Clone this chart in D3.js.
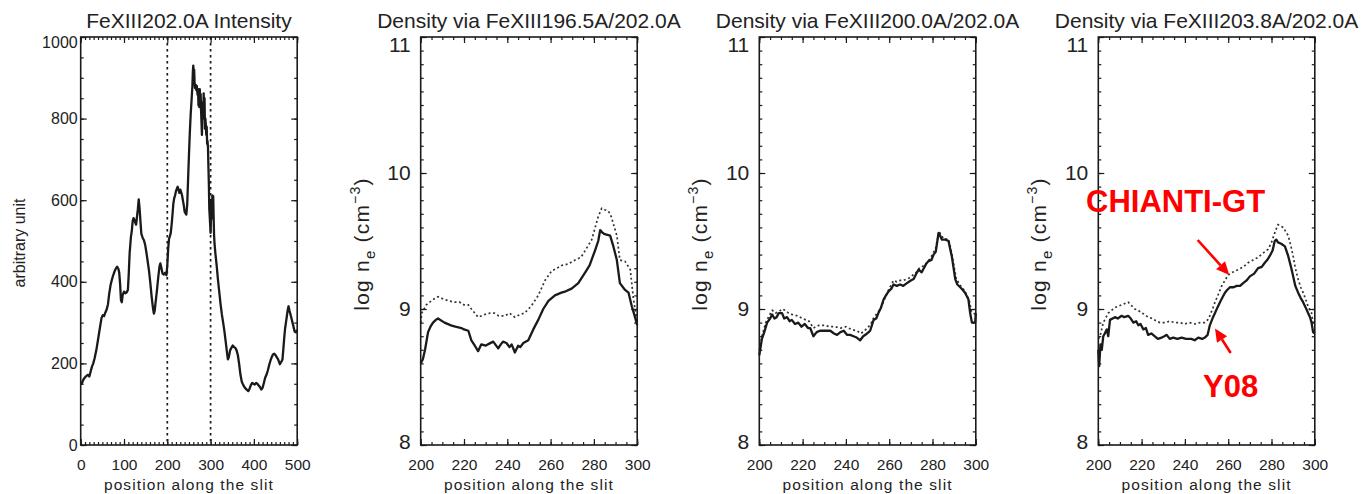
<!DOCTYPE html>
<html><head><meta charset="utf-8">
<script src="https://cdn.jsdelivr.net/npm/d3@7"></script>
<style>
body{margin:0;background:#fff}
svg{display:block}
text{font-family:"Liberation Sans",Arial,sans-serif;fill:#222}
</style>
</head><body>
<svg id="c" width="1364" height="494"></svg>
<script>
// ---------- DATA ----------
const titles = ["FeXIII202.0A Intensity","Density via FeXIII196.5A/202.0A","Density via FeXIII200.0A/202.0A","Density via FeXIII203.8A/202.0A"];
const xTitle = "position along the slit";
const intensityTicksX = [0,100,200,300,400,500];
const intensityTicksY = [0,200,400,600,800,1000];
const densityTicksX = [200,220,240,260,280,300];
const densityTicksY = [8,9,10,11];
const markedRange = [200,300];

const intensity202 = [
[0,148],[3,152],[6,160],[10,166],[14,170],[17,172],[20,168],[23,180],[26,192],[29,200],[32,212],[36,232],[40,258],[44,285],[48,311],[51,318],[54,316],[57,325],[60,332],[63,345],[66,372],[69,392],[72,405],[75,416],[78,425],[81,432],[84,437],[87,432],[89,422],[91,395],[93,355],[95,350],[97,368],[100,376],[103,372],[106,374],[109,380],[111,420],[113,470],[116,510],[118,525],[120,548],[122,556],[124,552],[126,545],[128,540],[130,560],[132,578],[134,602],[136,580],[138,548],[140,518],[143,508],[146,502],[149,490],[152,470],[155,448],[158,425],[161,395],[164,362],[167,335],[169,322],[171,330],[173,350],[176,378],[179,410],[182,438],[184,445],[186,436],[189,420],[192,418],[195,422],[198,416],[200,440],[202,480],[204,505],[206,512],[208,520],[210,540],[212,565],[214,592],[216,605],[218,612],[220,622],[222,628],[224,633],[226,625],[228,618],[230,626],[232,620],[234,612],[236,600],[238,588],[240,572],[242,568],[244,565],[246,590],[248,650],[250,710],[252,765],[254,810],[256,845],[258,880],[259,915],[260,930],[261,905],[262,920],[263,890],[264,875],[266,882],[267,870],[268,880],[270,858],[271,872],[272,832],[273,868],[274,828],[275,872],[276,845],[277,860],[278,820],[279,790],[280,760],[281,815],[282,840],[283,800],[284,862],[285,810],[286,850],[287,775],[288,800],[289,785],[290,760],[291,780],[292,738],[293,745],[294,728],[295,680],[296,640],[297,578],[298,560],[299,540],[300,520],[301,560],[302,600],[303,555],[304,612],[305,590],[306,610],[307,560],[308,515],[309,495],[311,470],[314,440],[317,405],[320,375],[323,345],[326,320],[329,300],[332,278],[335,252],[338,225],[340,210],[342,215],[345,232],[348,238],[351,244],[354,240],[357,238],[360,232],[363,220],[366,198],[369,172],[372,155],[375,148],[378,142],[381,138],[384,135],[387,132],[390,138],[393,147],[396,152],[399,150],[402,148],[405,152],[408,150],[411,146],[414,142],[417,136],[420,140],[423,152],[426,165],[429,172],[432,182],[435,195],[438,206],[441,215],[444,222],[447,224],[450,220],[453,215],[456,210],[458,204],[460,198],[462,202],[464,205],[466,210],[468,235],[470,262],[472,285],[474,300],[476,315],[478,330],[480,340],[482,330],[485,318],[488,305],[491,292],[494,278],[497,276],[500,282]
];

const dens1965Y08 = [
[200,8.60],[201,8.63],[202,8.70],[203.4,8.83],[204.5,8.87],[205.7,8.90],[207,8.92],[208,8.93],[211,8.90],[214,8.88],[216,8.87],[218.8,8.86],[220,8.85],[222,8.84],[223.4,8.77],[225,8.73],[226.5,8.69],[228,8.74],[230,8.73],[231,8.74],[233.5,8.76],[235.8,8.71],[237,8.74],[238,8.76],[239.6,8.75],[241,8.72],[242,8.74],[243.5,8.68],[245,8.73],[246,8.72],[247.4,8.75],[249.7,8.77],[252,8.85],[254.3,8.92],[256.6,9.00],[259,9.06],[262,9.10],[265,9.12],[267,9.13],[269.7,9.15],[272.8,9.19],[276,9.27],[278,9.32],[280.5,9.43],[282,9.50],[282.9,9.58],[284,9.56],[285,9.55],[287.5,9.54],[289,9.46],[290.6,9.36],[292,9.19],[294.4,9.14],[296,9.12],[297.5,9.02],[299,8.94],[300,8.88]
];
const dens1965GT = [
[200,8.90],[200.5,8.97],[202.6,9.03],[205.7,9.07],[208,9.09],[211,9.07],[213,9.06],[215.7,9.05],[218,9.05],[220,9.03],[222,9.03],[223.4,9.00],[226.5,8.94],[229.6,8.96],[232,8.97],[234,8.97],[236,8.95],[238.9,8.95],[241,8.97],[243.5,8.94],[246,8.96],[248,8.97],[251,9.02],[254.3,9.10],[257.4,9.21],[260.5,9.28],[263,9.30],[265,9.32],[268,9.33],[271.3,9.36],[274,9.38],[276,9.43],[279,9.51],[282,9.68],[283.6,9.74],[285,9.73],[286.7,9.72],[288,9.68],[290.6,9.54],[292,9.36],[294.4,9.35],[296.8,9.29],[298.3,9.07],[300,8.90]
];
const dens2000Y08 = [
[200,8.66],[200.2,8.68],[201.2,8.78],[202.5,8.84],[203.6,8.90],[205,8.93],[205.9,8.96],[207,8.93],[208,8.94],[209,8.97],[210.5,8.97],[211.5,8.93],[212.8,8.94],[214,8.91],[215,8.92],[216.5,8.89],[218,8.90],[219.5,8.87],[221,8.89],[222.5,8.86],[223.5,8.86],[225,8.80],[226.5,8.83],[228,8.84],[230,8.84],[232.8,8.84],[234.5,8.82],[235.9,8.81],[237.5,8.83],[239,8.84],[240.5,8.81],[242,8.81],[243.5,8.80],[245,8.79],[246.6,8.77],[248,8.80],[249,8.81],[250.5,8.83],[251.2,8.84],[252.8,8.92],[254,8.93],[255,8.97],[256.2,9.01],[257.4,9.07],[258.5,9.10],[259.7,9.13],[261,9.15],[262,9.18],[263.5,9.17],[265,9.18],[266.5,9.17],[268.2,9.19],[270,9.21],[271.3,9.22],[272.5,9.26],[273.6,9.29],[275,9.27],[276,9.30],[277,9.33],[278,9.35],[279.5,9.36],[280.5,9.40],[281.5,9.42],[282.8,9.56],[283.5,9.54],[284.3,9.51],[286,9.51],[287.4,9.50],[288.2,9.44],[289,9.38],[290.5,9.22],[291.5,9.18],[292.8,9.16],[294,9.14],[295,9.12],[296,9.09],[296.6,9.07],[297.4,8.97],[298.2,8.90],[299,8.90],[299.7,8.90],[300,8.97]
];
const dens2000GT = [
[200,8.70],[201.5,8.82],[203,8.90],[204.5,8.95],[206,8.99],[207.5,8.97],[209,8.98],[210.5,9.00],[212,8.99],[213.5,8.97],[215,8.96],[217.5,8.95],[220,8.93],[223,8.91],[225,8.86],[227.5,8.88],[230,8.88],[232.5,8.87],[235,8.87],[237.5,8.86],[240,8.87],[242.5,8.85],[245,8.84],[247,8.82],[248.5,8.84],[250,8.86],[251.5,8.89],[253,8.94],[254.5,8.97],[256,9.00],[258,9.08],[260,9.15],[262,9.21],[263.5,9.20],[265,9.21],[266.5,9.21],[268,9.22],[269.5,9.23],[271,9.25],[272.5,9.27],[274,9.30],[276,9.32],[278,9.35],[280,9.40],[281.5,9.45],[283,9.57],[285,9.52],[287.5,9.51],[289,9.40],[291,9.22],[293,9.17],[295,9.13],[297,9.06],[298,8.98],[300,8.96]
];
const dens2038Y08 = [
[200,8.70],[200.4,8.58],[201,8.74],[201.6,8.70],[202.3,8.80],[203,8.82],[203.9,8.85],[204.6,8.80],[205.4,8.92],[207.7,8.94],[209,8.93],[210.8,8.95],[212,8.94],[213.8,8.95],[215,8.93],[216.2,8.90],[217.5,8.91],[218.5,8.88],[219.5,8.89],[220.8,8.85],[222,8.86],[223,8.81],[224.5,8.82],[226,8.80],[227.5,8.78],[229.3,8.79],[230.5,8.80],[231.6,8.81],[233,8.78],[234.6,8.79],[236.5,8.78],[238.5,8.79],[240.5,8.78],[243,8.78],[244.5,8.77],[246.2,8.79],[248,8.78],[249.2,8.79],[250.5,8.81],[251.5,8.88],[253,8.94],[253.9,8.97],[255,9.01],[256.2,9.05],[257.5,9.09],[258.5,9.12],[259.5,9.14],[260.8,9.16],[262.5,9.16],[263.9,9.17],[265.5,9.17],[266.9,9.19],[268.5,9.21],[270,9.24],[272,9.26],[273.8,9.30],[275.5,9.31],[276.9,9.34],[278,9.36],[279.2,9.39],[280.5,9.43],[281.5,9.50],[282.2,9.51],[283,9.49],[284.5,9.48],[286.2,9.46],[287.7,9.39],[289,9.31],[290,9.24],[291,9.17],[292.3,9.12],[293.5,9.08],[294.6,9.05],[295.8,9.01],[296.9,8.97],[297.8,8.94],[298.5,8.90],[299.2,8.83],[300,8.82]
];
const dens2038GT = [
[200,8.78],[200.8,8.80],[202.3,8.90],[204.6,8.97],[207.7,9.01],[210.8,9.03],[213.8,9.05],[215,9.03],[216.9,9.00],[218.5,8.99],[220,8.97],[221.5,8.96],[223,8.94],[225,8.93],[226.9,8.91],[228.5,8.90],[230.8,8.90],[233,8.91],[235.4,8.90],[237.5,8.90],[240,8.89],[242,8.90],[244.6,8.89],[247,8.90],[249.2,8.90],[250.5,8.92],[251.5,8.95],[253,9.01],[253.9,9.05],[255.5,9.11],[257,9.17],[258.5,9.21],[260,9.25],[262,9.27],[264.6,9.29],[267,9.31],[269.2,9.34],[271.5,9.36],[273.8,9.38],[276,9.41],[278.5,9.44],[280,9.49],[281.5,9.56],[283,9.62],[285.4,9.60],[287.7,9.54],[289,9.46],[290,9.39],[291,9.30],[292.3,9.22],[293.5,9.16],[294.6,9.12],[295.8,9.07],[296.9,9.02],[298.5,8.97],[299.2,8.90],[300,8.88]
];
const densitySolid = [dens1965Y08, dens2000Y08, dens2038Y08];
const densityDotted = [dens1965GT, dens2000GT, dens2038GT];
const annotLabels = ["CHIANTI-GT","Y08"];
const annotTips = [[260.5,9.25],[253.9,8.856]];

// ---------- LAYOUT ----------
const svg = d3.select("#c");
const TOP = 37, BOT = 445, W = 216.5;
const lefts = [80.7, 420.7, 759.3, 1098.3];
const INK = "#1a1a1a";

function range(a,b,s){ return d3.range(a, b + s/2, s); }

function drawFrame(g, x, y, xMajor, xMinor, yMajor, yMinor, yPad, yFont, topShift, botShift) {
  const L = x.range()[0], R = x.range()[1];
  const xa = [
    {ax: d3.axisBottom(x).tickValues(xMajor).tickSize(-6).tickPadding(14).tickFormat(d3.format("d")), t:`translate(0,${BOT})`, lab:true},
    {ax: d3.axisBottom(x).tickValues(xMinor).tickSize(-3).tickFormat(""), t:`translate(0,${BOT})`},
    {ax: d3.axisTop(x).tickValues(xMajor).tickSize(-6).tickFormat(""), t:`translate(0,${TOP})`},
    {ax: d3.axisTop(x).tickValues(xMinor).tickSize(-3).tickFormat(""), t:`translate(0,${TOP})`},
    {ax: d3.axisLeft(y).tickValues(yMajor).tickSize(-6).tickPadding(yPad).tickFormat(d3.format("d")), t:`translate(${L},0)`, laby:true},
    {ax: d3.axisLeft(y).tickValues(yMinor).tickSize(-3).tickFormat(""), t:`translate(${L},0)`},
    {ax: d3.axisRight(y).tickValues(yMajor).tickSize(-6).tickFormat(""), t:`translate(${R},0)`},
    {ax: d3.axisRight(y).tickValues(yMinor).tickSize(-3).tickFormat(""), t:`translate(${R},0)`}
  ];
  xa.forEach(a => {
    const ag = g.append("g").attr("transform", a.t).call(a.ax);
    ag.select(".domain").remove();
    ag.selectAll("line").attr("stroke", INK).attr("stroke-width", 1.2);
    ag.selectAll("text").attr("fill", "#222").attr("font-family", '"Liberation Sans",Arial,sans-serif');
    if (a.lab) ag.selectAll("text").attr("font-size", 15.5);
    if (a.laby) {
      const ymax = d3.max(yMajor), ymin = d3.min(yMajor);
      ag.selectAll("text").attr("font-size", yFont)
        .attr("dy", d => d === ymax ? (0.32*yFont + topShift) + "px" : d === ymin ? (0.32*yFont - botShift) + "px" : "0.32em");
    }
  });
  g.append("rect").attr("x", L).attr("y", TOP).attr("width", R - L).attr("height", BOT - TOP)
    .attr("fill", "none").attr("stroke", INK).attr("stroke-width", 1.6);
}

function addTitles(g, i, L) {
  g.append("text").attr("x", L + W/2).attr("y", 28).attr("text-anchor", "middle")
    .attr("font-size", 21).text(titles[i]);
  g.append("text").attr("x", L + W/2).attr("y", 490).attr("text-anchor", "middle")
    .attr("font-size", 15.5).attr("letter-spacing", 1.1).text(xTitle);
}

// ---------- PANEL 1 ----------
{
  const L = lefts[0];
  const x = d3.scaleLinear().domain([0, 500]).range([L, L + W]);
  const y = d3.scaleLinear().domain([0, 1000]).range([BOT, TOP]);
  const g = svg.append("g");
  markedRange.forEach(v => {
    g.append("line").attr("x1", x(v)).attr("x2", x(v)).attr("y1", TOP).attr("y2", BOT)
      .attr("stroke", INK).attr("stroke-width", 1.7).attr("stroke-dasharray", "2.5,3.5");
  });
  g.append("path").datum(intensity202)
    .attr("d", d3.line().x(d => x(d[0])).y(d => y(d[1])))
    .attr("fill", "none").attr("stroke", INK).attr("stroke-width", 2.3).attr("stroke-linejoin", "round");
  drawFrame(g, x, y, intensityTicksX, range(0, 500, 10), intensityTicksY, range(0, 1000, 50), 3, 16, 5, 0);
  addTitles(g, 0, L);
  g.append("text").attr("transform", `translate(25,243) rotate(-90)`).attr("text-anchor", "middle")
    .attr("font-size", 16).text("arbitrary unit");
}

// ---------- PANELS 2-4 ----------
for (let k = 0; k < 3; k++) {
  const L = lefts[k + 1];
  const x = d3.scaleLinear().domain([200, 300]).range([L, L + W]);
  const y = d3.scaleLinear().domain([8, 11]).range([BOT, TOP]);
  const g = svg.append("g");
  const line = d3.line().x(d => x(d[0])).y(d => y(d[1]));
  g.append("path").datum(densityDotted[k]).attr("d", line)
    .attr("fill", "none").attr("stroke", "#333").attr("stroke-width", 1.7).attr("stroke-dasharray", "2,2.6");
  g.append("path").datum(densitySolid[k]).attr("d", line)
    .attr("fill", "none").attr("stroke", INK).attr("stroke-width", 2.3).attr("stroke-linejoin", "round");
  drawFrame(g, x, y, densityTicksX, range(200, 300, 5), densityTicksY, range(8, 11, 0.1), 10, 21, 8, 3);
  addTitles(g, k + 1, L);
  const t = g.append("text").attr("transform", `translate(${L - 52},244) rotate(-90)`)
    .attr("text-anchor", "middle").attr("font-size", 21).attr("letter-spacing", 1.2);
  t.append("tspan").text("log n");
  t.append("tspan").attr("dy", 6).attr("font-size", 15).text("e");
  t.append("tspan").attr("dy", -6).text(" (cm");
  t.append("tspan").attr("dy", -9).attr("font-size", 14).text("\u22123");
  t.append("tspan").attr("dy", 9).text(")");

  if (k === 2) {
    const red = "#ff0000";
    const tails = [[-31.6, -35], [15.7, 24.4]];
    annotTips.forEach((tp, j) => {
      const tx = x(tp[0]), ty = y(tp[1]);
      const sx = tx + tails[j][0], sy = ty + tails[j][1];
      const ang = Math.atan2(ty - sy, tx - sx);
      const hl = 13, hw = 6;
      const bx = tx - hl * Math.cos(ang), by = ty - hl * Math.sin(ang);
      g.append("line").attr("x1", sx).attr("y1", sy).attr("x2", bx).attr("y2", by)
        .attr("stroke", red).attr("stroke-width", 2.6);
      g.append("path").attr("d", `M${tx},${ty}L${bx - hw*Math.sin(ang)},${by + hw*Math.cos(ang)}L${bx + hw*Math.sin(ang)},${by - hw*Math.cos(ang)}Z`)
        .attr("fill", red);
    });
    g.append("text").attr("x", 1086).attr("y", 212).attr("font-size", 31).attr("font-weight", "bold")
      .attr("fill", red).style("fill", red).text(annotLabels[0]);
    g.append("text").attr("x", 1203).attr("y", 397).attr("font-size", 31).attr("font-weight", "bold")
      .attr("fill", red).style("fill", red).text(annotLabels[1]);
  }
}
</script>
</body></html>
